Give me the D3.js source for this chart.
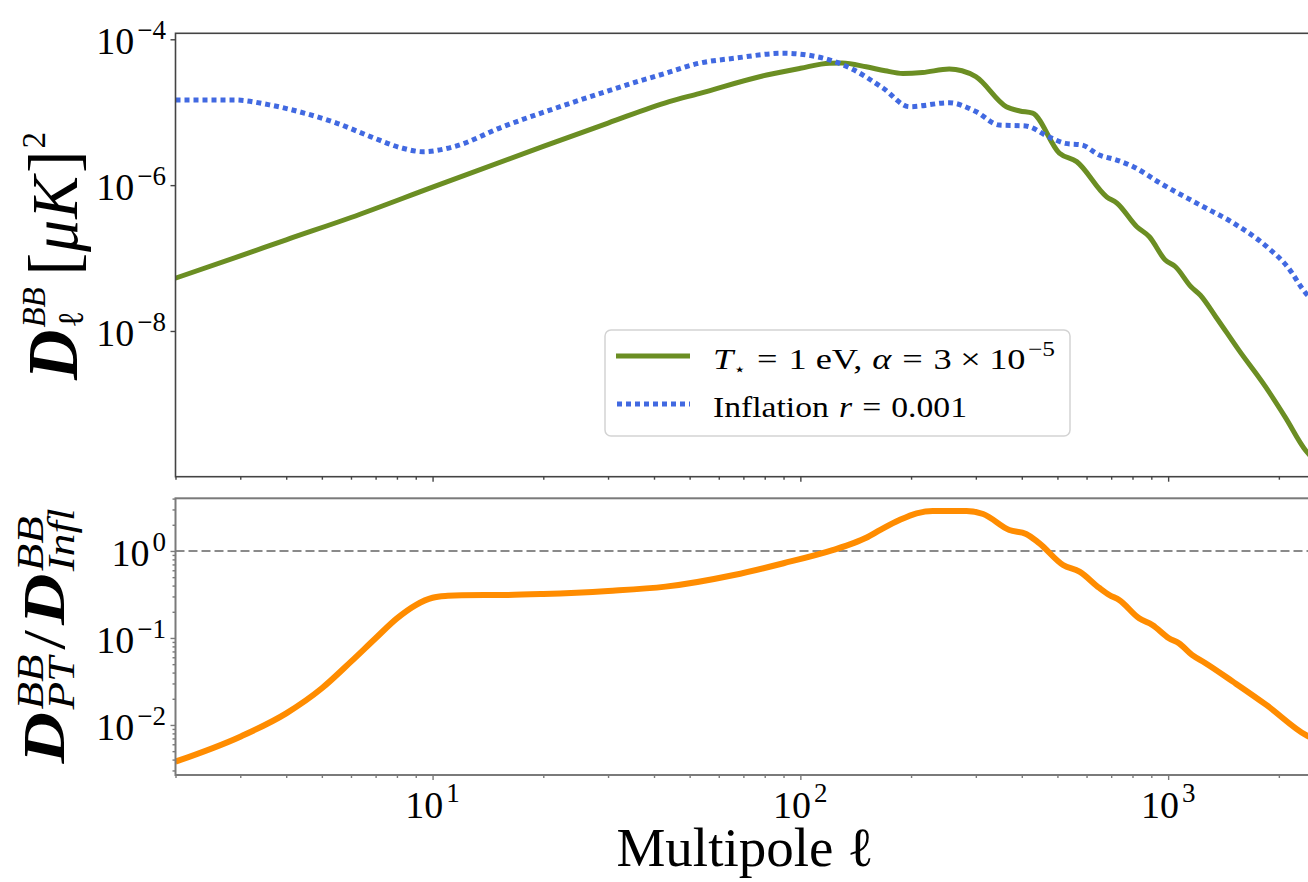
<!DOCTYPE html>
<html>
<head>
<meta charset="utf-8">
<script src="https://cdn.jsdelivr.net/npm/d3@7"></script>
<style>
  html, body { margin: 0; padding: 0; background: #fff; }
  svg { display: block; }
  text { white-space: pre; }
</style>
</head>
<body>
<svg id="chart" width="1308" height="882"></svg>
<script>
// ---- B-mode spectra: phase-transition source vs. inflation (r = 0.001) ----
const ellPT = [2, 3, 4, 6, 10, 20, 30, 44, 53, 81, 100, 120, 130, 151, 170, 190, 215, 254, 275, 300, 363, 395, 428, 506, 564, 681, 725, 822, 889, 982, 1047, 1154, 1222, 1347, 1555, 1841, 2081, 2366, 2500];
const dlPT = [5.3e-8, 1.07e-7, 1.78e-7, 3.6e-7, 9.4e-7, 3.4e-6, 7.1e-6, 1.4e-5, 1.8e-5, 3.24e-5, 4.0e-5, 4.7e-5, 4.72e-5, 4.2e-5, 3.7e-5, 3.4e-5, 3.5e-5, 3.9e-5, 3.7e-5, 3.07e-5, 1.19e-5, 1.04e-5, 9.7e-6, 2.75e-6, 2.1e-6, 6.9e-7, 5.7e-7, 2.69e-7, 1.96e-7, 9.4e-8, 7.6e-8, 4.04e-8, 3.11e-8, 1.57e-8, 5.5e-9, 1.71e-9, 6.6e-10, 2.3e-10, 1.7e-10];

const ellInf = [2, 2.9, 3.6, 4.5, 5.5, 6.8, 8.3, 9.4, 11.4, 15.5, 23.6, 36, 43, 53, 66, 90, 111, 137, 168, 198, 254, 300, 347, 410, 473, 525, 583, 650, 724, 804, 950, 1222, 1505, 1855, 2111, 2366, 2500];
const dlInf = [1.47e-5, 1.47e-5, 1.26e-5, 9.66e-6, 7.05e-6, 4.6e-6, 3.2e-6, 2.87e-6, 3.36e-6, 6.3e-6, 1.32e-5, 2.62e-5, 3.42e-5, 4.69e-5, 5.49e-5, 6.43e-5, 5.77e-5, 4.0e-5, 2.13e-5, 1.19e-5, 1.35e-5, 1.02e-5, 6.67e-6, 6.47e-6, 4.6e-6, 3.74e-6, 3.55e-6, 2.59e-6, 2.21e-6, 1.79e-6, 1.07e-6, 5.33e-7, 3.02e-7, 1.43e-7, 7.6e-8, 3.31e-8, 2.5e-8];

const ellRatio = [2, 3, 4, 5, 6, 7, 8, 9, 10, 11, 12, 16, 20, 30, 43, 66, 90, 123, 140, 151, 165, 186, 207, 229, 283, 314, 370, 411, 446, 518, 574, 650, 692, 736, 834, 906, 1005, 1070, 1161, 1258, 1500, 1849, 2366, 2500];
const ratio = [3.79e-3, 7.34e-3, 0.0136, 0.0264, 0.0534, 0.0993, 0.168, 0.239, 0.29, 0.305, 0.31, 0.312, 0.32, 0.347, 0.389, 0.53, 0.723, 1.03, 1.24, 1.42, 1.75, 2.27, 2.71, 2.88, 2.88, 2.66, 1.74, 1.57, 1.23, 0.69, 0.578, 0.376, 0.312, 0.273, 0.168, 0.141, 0.0993, 0.0869, 0.0638, 0.052, 0.0315, 0.017, 7.67e-3, 6.8e-3];

const xTickValues = [10, 100, 1000];
const yTopTickValues = [1e-4, 1e-6, 1e-8];
const yBotTickValues = [1, 0.1, 0.01];
const ratioReference = 1;

// ---- layout ----
const SERIF = "'Liberation Serif', 'DejaVu Serif', serif";
const svg = d3.select('#chart');

const x = d3.scaleLog().domain([2, 2500]).range([175.5, 1314.5]);
const yTop = d3.scaleLog().domain([1.004e-10, 1.208e-4]).range([476.7, 33.3]);
const yBot = d3.scaleLog().domain([2.66e-3, 4.03]).range([775, 498.3]);

const topColor = '#444';
const botColor = '#7a7a7a';

// minor log ticks (2..9 x 10^k) inside a domain
function minorTicks(domain) {
  const [lo, hi] = domain;
  const out = [];
  for (let e = Math.floor(Math.log10(lo)); e <= Math.ceil(Math.log10(hi)); e++) {
    for (let k = 2; k <= 9; k++) {
      const v = k * Math.pow(10, e);
      if (v >= lo && v <= hi) out.push(v);
    }
  }
  return out;
}

// Sequential text layout with super/subscripts; returns the group and its advance width
function mathText(parent, pieces) {
  const g = parent.append('g');
  let cursor = 0, groupStart = 0;
  for (const p of pieces) {
    const start = p.stack ? groupStart : cursor + (p.gap || 0);
    if (!p.stack) groupStart = start;
    const t = g.append('text')
      .attr('x', start)
      .attr('y', -(p.shift || 0))
      .style('font-family', p.family || SERIF)
      .style('font-size', p.size + 'px')
      .style('font-style', p.italic ? 'italic' : 'normal')
      .style('font-weight', p.bold ? 'bold' : 'normal')
      .attr('fill', '#000')
      .text(p.t);
    const w = t.node().getComputedTextLength();
    cursor = p.stack ? Math.max(cursor, start + w) : start + w;
  }
  return { g, width: cursor };
}

function expText(v) {
  const e = Math.round(Math.log10(v));
  return e < 0 ? '\u2212' + (-e) : String(e);
}

// ---- clip paths ----
const defs = svg.append('defs');
defs.append('clipPath').attr('id', 'clipTop').append('rect')
  .attr('x', x.range()[0]).attr('y', yTop.range()[1])
  .attr('width', x.range()[1] - x.range()[0]).attr('height', yTop.range()[0] - yTop.range()[1]);
defs.append('clipPath').attr('id', 'clipBot').append('rect')
  .attr('x', x.range()[0]).attr('y', yBot.range()[1])
  .attr('width', x.range()[1] - x.range()[0]).attr('height', yBot.range()[0] - yBot.range()[1]);

// ---- axes ----
function styleAxis(g, color) {
  g.select('.domain').remove();
  g.selectAll('.tick line').attr('stroke', color).attr('stroke-width', 1.4);
  g.selectAll('.tick text').remove();
}

function xAxes(yPos, color) {
  svg.append('g').attr('transform', `translate(0,${yPos})`)
    .call(d3.axisBottom(x).tickValues(xTickValues).tickSize(5).tickSizeOuter(0).tickFormat(''))
    .call(g => styleAxis(g, color));
  svg.append('g').attr('transform', `translate(0,${yPos})`)
    .call(d3.axisBottom(x).tickValues(minorTicks(x.domain())).tickSize(3).tickSizeOuter(0).tickFormat(''))
    .call(g => styleAxis(g, color));
}

xAxes(yTop.range()[0], topColor);
xAxes(yBot.range()[0], botColor);

svg.append('g').attr('transform', `translate(${x.range()[0]},0)`)
  .call(d3.axisLeft(yTop).tickValues(yTopTickValues).tickSize(5).tickSizeOuter(0).tickFormat(''))
  .call(g => styleAxis(g, topColor));

svg.append('g').attr('transform', `translate(${x.range()[0]},0)`)
  .call(d3.axisLeft(yBot).tickValues(yBotTickValues).tickSize(5).tickSizeOuter(0).tickFormat(''))
  .call(g => styleAxis(g, botColor));
svg.append('g').attr('transform', `translate(${x.range()[0]},0)`)
  .call(d3.axisLeft(yBot).tickValues(minorTicks(yBot.domain())).tickSize(3).tickSizeOuter(0).tickFormat(''))
  .call(g => styleAxis(g, botColor));

// tick labels: 10^k
function yTickLabel(yPos, v) {
  const m = mathText(svg, [
    { t: '10', size: 38 },
    { t: expText(v), size: 27, shift: 15, gap: 3 }
  ]);
  m.g.attr('transform', `translate(${166 - m.width},${yPos + 15})`);
}
yTopTickValues.forEach(v => yTickLabel(yTop(v), v));
yBotTickValues.forEach(v => yTickLabel(yBot(v), v));

xTickValues.forEach(v => {
  const m = mathText(svg, [
    { t: '10', size: 38 },
    { t: expText(v), size: 27, shift: 16, gap: 3 }
  ]);
  m.g.attr('transform', `translate(${x(v) - m.width / 2},${818})`);
});

// ---- curves ----
const lineTop = d3.line().x(d => x(d[0])).y(d => yTop(d[1])).curve(d3.curveMonotoneX);
const lineBot = d3.line().x(d => x(d[0])).y(d => yBot(d[1])).curve(d3.curveMonotoneX);

const topG = svg.append('g').attr('clip-path', 'url(#clipTop)');
topG.append('path').datum(d3.zip(ellPT, dlPT))
  .attr('d', lineTop).attr('fill', 'none')
  .attr('stroke', '#6b8e23').attr('stroke-width', 5).attr('stroke-linejoin', 'round');
topG.append('path').datum(d3.zip(ellInf, dlInf))
  .attr('d', lineTop).attr('fill', 'none')
  .attr('stroke', '#4169e1').attr('stroke-width', 5).attr('stroke-dasharray', '5,4');

const botG = svg.append('g').attr('clip-path', 'url(#clipBot)');
botG.append('line')
  .attr('x1', x.range()[0]).attr('x2', x.range()[1])
  .attr('y1', yBot(ratioReference)).attr('y2', yBot(ratioReference))
  .attr('stroke', '#8a8a8a').attr('stroke-width', 2).attr('stroke-dasharray', '9,4');
botG.append('path').datum(d3.zip(ellRatio, ratio))
  .attr('d', lineBot).attr('fill', 'none')
  .attr('stroke', '#ff8c00').attr('stroke-width', 6).attr('stroke-linejoin', 'round');

// ---- spines ----
svg.append('rect')
  .attr('x', x.range()[0]).attr('y', yTop.range()[1])
  .attr('width', x.range()[1] - x.range()[0]).attr('height', yTop.range()[0] - yTop.range()[1])
  .attr('fill', 'none').attr('stroke', topColor).attr('stroke-width', 1.6);
svg.append('rect')
  .attr('x', x.range()[0]).attr('y', yBot.range()[1])
  .attr('width', x.range()[1] - x.range()[0]).attr('height', yBot.range()[0] - yBot.range()[1])
  .attr('fill', 'none').attr('stroke', botColor).attr('stroke-width', 2);

// ---- legend ----
const leg = svg.append('g');
leg.append('rect').attr('x', 605).attr('y', 330).attr('width', 465).attr('height', 106)
  .attr('rx', 6).attr('fill', '#fff').attr('fill-opacity', 0.85)
  .attr('stroke', '#d3d3d3').attr('stroke-width', 1.5);
leg.append('line').attr('x1', 616).attr('x2', 690).attr('y1', 356).attr('y2', 356)
  .attr('stroke', '#6b8e23').attr('stroke-width', 5);
leg.append('line').attr('x1', 617).attr('x2', 690).attr('y1', 404).attr('y2', 404)
  .attr('stroke', '#4169e1').attr('stroke-width', 5).attr('stroke-dasharray', '5,4');

function fitLine(pieces, tx, ty, target) {
  const m = mathText(leg, pieces);
  const s = target / m.width;
  m.g.attr('transform', `translate(${tx},${ty}) scale(${s},1)`);
}
fitLine([
  { t: 'T', size: 30, italic: true },
  { t: '⋆', size: 17, shift: -6, family: "'DejaVu Sans', sans-serif", gap: 0 },
  { t: '=', size: 30, gap: 9 },
  { t: '1 eV,', size: 30, gap: 9 },
  { t: 'α', size: 30, italic: true, gap: 8 },
  { t: '=', size: 30, gap: 9 },
  { t: '3', size: 30, gap: 9 },
  { t: '×', size: 30, gap: 7 },
  { t: '10', size: 30, gap: 7 },
  { t: '\u22125', size: 21, shift: 13, gap: 2 }
], 713, 369, 342);
fitLine([
  { t: 'Inflation', size: 30 },
  { t: 'r', size: 30, italic: true, gap: 9 },
  { t: '=', size: 30, gap: 9 },
  { t: '0.001', size: 30, gap: 9 }
], 713, 417, 254);

// ---- axis titles ----
const xl = mathText(svg, [
  { t: 'Multipole ', size: 55 },
  { t: 'ℓ', size: 55 }
]);
xl.g.attr('transform', `translate(${(x.range()[0] + x.range()[1]) / 2 - xl.width / 2},866)`);

function yTitle(pieces, bx, cy, target) {
  const m = mathText(svg, pieces);
  const s = target ? target / m.width : 1;
  m.g.attr('transform', `translate(${bx},${cy}) rotate(-90) scale(${s},1) translate(${-m.width / 2},0)`);
}
yTitle([
  { t: 'D', size: 72, italic: true, bold: true },
  { t: 'BB', size: 34, italic: true, shift: 32, gap: 2 },
  { t: 'ℓ', size: 36, shift: -6, stack: true },
  { t: '[', size: 70, gap: 12 },
  { t: 'μ', size: 66, italic: true, gap: 1 },
  { t: 'K', size: 66, italic: true, gap: 1 },
  { t: ']', size: 70, gap: 3 },
  { t: '2', size: 34, shift: 32, gap: 2 }
], 77, 256, 248);
yTitle([
  { t: 'D', size: 60, italic: true, bold: true },
  { t: 'BB', size: 38, italic: true, shift: 21, gap: 2 },
  { t: 'PT', size: 38, italic: true, shift: -10, stack: true },
  { t: '/', size: 60, gap: 4 },
  { t: 'D', size: 60, italic: true, bold: true, gap: 4 },
  { t: 'BB', size: 38, italic: true, shift: 21, gap: 2 },
  { t: 'Infl', size: 38, italic: true, shift: -10, stack: true }
], 64, 636, 255);
</script>
</body>
</html>
